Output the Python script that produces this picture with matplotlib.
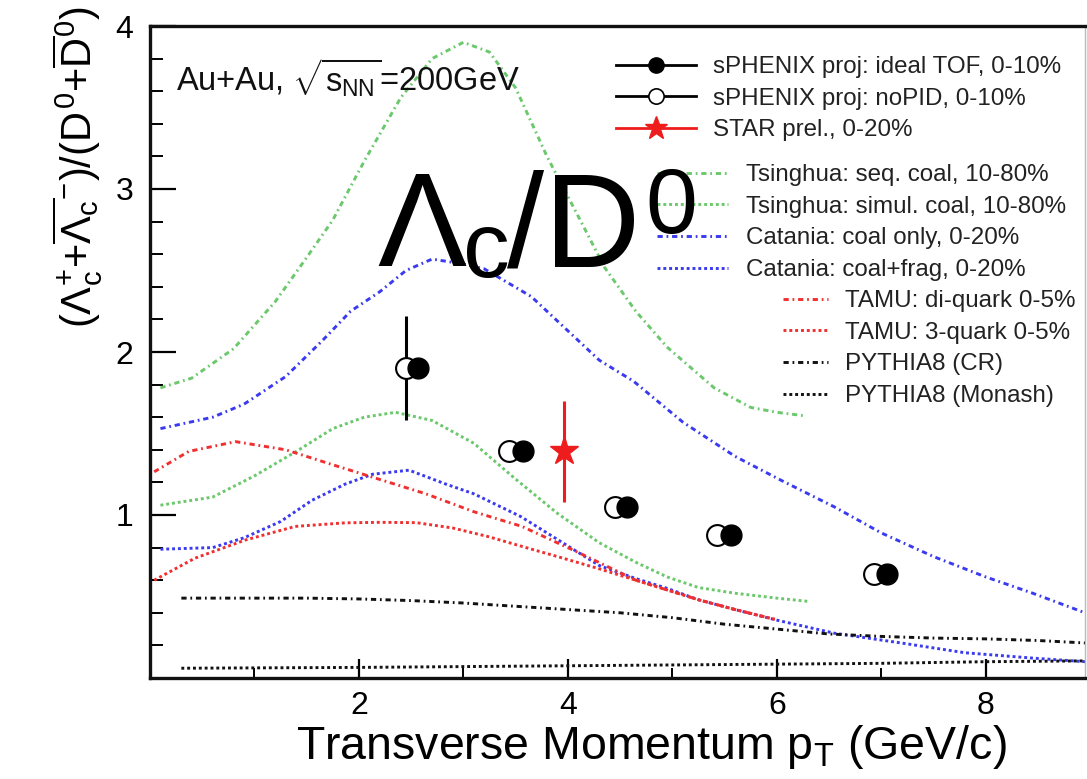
import matplotlib
matplotlib.use("Agg")
import matplotlib.pyplot as plt
from matplotlib.lines import Line2D

plt.rcParams['font.family'] = ['Liberation Sans', 'DejaVu Sans']
plt.rcParams['mathtext.fontset'] = 'custom'
plt.rcParams['mathtext.rm'] = 'Liberation Sans'
plt.rcParams['mathtext.it'] = 'Liberation Sans'
plt.rcParams['mathtext.bf'] = 'Liberation Sans:bold'
plt.rcParams['mathtext.sf'] = 'Liberation Sans'

# ---------------- data ----------------
# sPHENIX projections
tof_x = [2.57, 3.57, 4.57, 5.56, 7.05]
tof_y = [1.90, 1.39, 1.05, 0.88, 0.64]
nopid_x = [2.45, 3.44, 4.45, 5.43, 6.93]
nopid_y = [1.90, 1.39, 1.05, 0.88, 0.64]
nopid_err = [0.32, 0.0, 0.0, 0.0, 0.0]
# STAR preliminary
star_x = [3.96]
star_y = [1.39]
star_err = [0.31]

# model curves
tsq_x = [0.1, 0.4, 0.8, 1.2, 1.5, 1.75, 2.05, 2.4, 2.7, 3.0, 3.25, 3.5, 3.8,
         4.15, 4.35, 4.65, 4.95, 5.4, 5.75, 6.0, 6.25]
tsq_y = [1.78, 1.84, 2.02, 2.31, 2.58, 2.81, 3.17, 3.56, 3.80, 3.90, 3.84,
         3.62, 3.20, 2.77, 2.52, 2.25, 2.03, 1.78, 1.66, 1.63, 1.61]

tsim_x = [0.1, 0.6, 1.0, 1.4, 1.75, 2.05, 2.35, 2.7, 3.1, 3.5, 3.9, 4.3,
          4.65, 4.95, 5.25, 5.6, 6.0, 6.3]
tsim_y = [1.06, 1.11, 1.24, 1.39, 1.53, 1.60, 1.63, 1.58, 1.44, 1.22, 1.01,
          0.83, 0.71, 0.62, 0.555, 0.52, 0.49, 0.47]

ccoal_x = [0.1, 0.6, 0.9, 1.3, 1.65, 1.92, 2.2, 2.45, 2.7, 3.0, 3.2, 3.65,
           4.0, 4.3, 4.63, 5.1, 5.6, 6.05, 6.55, 7.0, 7.5, 8.0, 8.45, 8.95]
ccoal_y = [1.53, 1.60, 1.68, 1.85, 2.07, 2.25, 2.37, 2.50, 2.57, 2.54, 2.51,
           2.34, 2.13, 1.95, 1.82, 1.57, 1.36, 1.21, 1.05, 0.89, 0.745, 0.62,
           0.52, 0.40]

cfrag_x = [0.1, 0.6, 0.9, 1.25, 1.55, 1.87, 2.13, 2.48, 2.83, 3.1, 3.55,
           3.9, 4.3, 4.65, 4.95, 5.25, 5.6, 6.0, 6.55, 7.2, 7.8, 8.45, 8.95]
cfrag_y = [0.79, 0.80, 0.86, 0.96, 1.09, 1.19, 1.25, 1.275, 1.19, 1.13, 0.99,
           0.85, 0.69, 0.61, 0.55, 0.48, 0.42, 0.355, 0.275, 0.214, 0.155,
           0.122, 0.10]

tdi_x = [0.04, 0.37, 0.82, 1.3, 1.74, 2.19, 2.64, 3.1, 3.56, 4.1, 4.65, 4.95,
         5.25, 5.6, 5.98]
tdi_y = [1.265, 1.39, 1.45, 1.40, 1.31, 1.22, 1.13, 1.02, 0.93, 0.77, 0.60,
         0.54, 0.48, 0.42, 0.36]

t3q_x = [0.04, 0.43, 0.91, 1.39, 1.87, 2.2, 2.55, 2.9, 3.24, 3.6, 3.9, 4.3,
         4.65, 4.95, 5.25, 5.6, 5.98]
t3q_y = [0.60, 0.735, 0.846, 0.93, 0.952, 0.955, 0.953, 0.92, 0.867, 0.80,
         0.745, 0.67, 0.60, 0.54, 0.48, 0.42, 0.36]

pcr_x = [0.3, 1.0, 1.5, 2.0, 2.5, 3.0, 3.5, 4.0, 4.5, 5.0, 5.5, 6.0, 6.5,
         7.0, 7.5, 8.0, 8.5, 8.95]
pcr_y = [0.49, 0.49, 0.49, 0.485, 0.475, 0.46, 0.44, 0.42, 0.40, 0.37, 0.33,
         0.30, 0.27, 0.255, 0.245, 0.24, 0.23, 0.215]

pmon_x = [0.3, 2.0, 4.0, 6.0, 7.0, 8.0, 8.95]
pmon_y = [0.06, 0.065, 0.075, 0.085, 0.09, 0.10, 0.105]

xticks = [2, 4, 6, 8]
yticks = [1, 2, 3, 4]

labels_data = ['sPHENIX proj: ideal TOF, 0-10%', 'sPHENIX proj: noPID, 0-10%',
               'STAR prel., 0-20%']
labels_mod1 = ['Tsinghua: seq. coal, 10-80%', 'Tsinghua: simul. coal, 10-80%',
               'Catania: coal only, 0-20%', 'Catania: coal+frag, 0-20%']
labels_mod2 = ['TAMU: di-quark 0-5%', 'TAMU: 3-quark 0-5%',
               'PYTHIA8 (CR)', 'PYTHIA8 (Monash)']

# ---------------- styles ----------------
GREEN = '#6cc86c'
BLUE = '#3a3af0'
RED = '#f03030'
BLACK = '#111111'
DASHDOT = (0, (1.8, 1.3, 0.6, 1.3))
DASHED = (0, (1.0, 1.0))
LW = 2.1

fig = plt.figure(figsize=(10.87, 7.79), dpi=100)
W, H = 1087, 779
ax = fig.add_axes([150 / W, 1 - 678 / H, 935 / W, 652 / H])

curves = [
    (tsq_x, tsq_y, GREEN, DASHDOT),
    (tsim_x, tsim_y, GREEN, DASHED),
    (ccoal_x, ccoal_y, BLUE, DASHDOT),
    (cfrag_x, cfrag_y, BLUE, DASHED),
    (tdi_x, tdi_y, RED, DASHDOT),
    (t3q_x, t3q_y, RED, DASHED),
    (pcr_x, pcr_y, BLACK, DASHDOT),
    (pmon_x, pmon_y, BLACK, DASHED),
]
handles_mod = []
for cx, cy, col, ls in curves:
    ln, = ax.plot(cx, cy, color=col, ls=ls, lw=LW)
    handles_mod.append(ln)

# data points
ax.errorbar(nopid_x, nopid_y, yerr=nopid_err, fmt='o', ms=15, mfc='white',
            mec='black', mew=1.5, ecolor='black', elinewidth=2.2, capsize=0,
            zorder=5)
ax.errorbar(tof_x, tof_y, fmt='o', ms=15, mfc='black', mec='black',
            zorder=6)
ax.errorbar(star_x, star_y, yerr=star_err, fmt='*', ms=21, color='#ee1c1c',
            elinewidth=2.2, capsize=0, zorder=6)

ax.set_xlim(0, 8.95)
ax.set_ylim(0, 4)
ax.set_xticks(xticks)
ax.set_yticks(yticks)
ax.set_xticks([1, 3, 5, 7], minor=True)
ax.set_yticks([v / 5 for v in range(1, 20) if v % 5 != 0], minor=True)
ax.tick_params(axis='y', which='major', direction='in', length=19, width=1.6,
               labelsize=23, pad=12)
ax.tick_params(axis='y', which='minor', direction='in', length=9.5, width=1.4)
ax.tick_params(axis='x', which='major', direction='in', length=14, width=1.6,
               labelsize=23, pad=9)
ax.tick_params(axis='x', which='minor', direction='in', length=7, width=1.4)
for s in ['left', 'bottom', 'top']:
    ax.spines[s].set_linewidth(2.4)
    ax.spines[s].set_color('#111111')
ax.spines['right'].set_linewidth(1.0)
ax.spines['right'].set_color('#bbbbbb')

ax.set_xlabel(r'Transverse Momentum p$_{\mathrm{T}}$ (GeV/c)', fontsize=33.5)
ax.xaxis.set_label_coords(0.536, -0.069)
ax.set_ylabel(r'$(\Lambda_{c}^{+}{+}\overline{\Lambda_{c}}^{-})/(D^{0}{+}\overline{D}^{0})$',
              fontsize=30, loc='top')
ax.yaxis.set_label_coords(-0.048, 1.03)

fig.text(176 / W, 1 - 91 / H, r'Au+Au, $\sqrt{s_{NN}}$=200GeV', fontsize=23.5,
         ha='left', va='baseline', color='#111111')

# big annotation "Λc/D0" built from pieces
BIG = 96
fig.text(377 / W, 1 - 266 / H, 'Λ', fontsize=BIG, ha='left', va='baseline')
fig.text(463 / W, 1 - 277 / H, 'c', fontsize=BIG * 0.7, ha='left', va='baseline')
fig.text(507 / W, 1 - 266 / H, '/D', fontsize=BIG, ha='left', va='baseline')
fig.text(645 / W, 1 - 233 / H, '0', fontsize=BIG * 0.7, ha='left', va='baseline')

# legends
h_tof = Line2D([], [], color='black', lw=2, marker='o', ms=11, mfc='black')
h_nopid = Line2D([], [], color='black', lw=2, marker='o', ms=11, mfc='white',
                 mew=1.2)
h_star = Line2D([], [], color='#ee1c1c', lw=2, marker='*', ms=17)
LFS = 17.4
LSP = 0.4
leg1 = ax.legend([h_tof, h_nopid, h_star], labels_data, loc='upper left',
                 bbox_to_anchor=(616 / W, 1 - 56 / H), bbox_transform=fig.transFigure,
                 frameon=False, fontsize=LFS, handlelength=80 / 24.2,
                 handletextpad=17 / 24.2, borderpad=0, borderaxespad=0,
                 labelspacing=LSP, labelcolor='#222222')
ax.add_artist(leg1)
leg2 = ax.legend(handles_mod[:4], labels_mod1, loc='upper left',
                 bbox_to_anchor=(657 / W, 1 - 164 / H), bbox_transform=fig.transFigure,
                 frameon=False, fontsize=LFS, handlelength=71 / 24.2,
                 handletextpad=18 / 24.2, borderpad=0, borderaxespad=0,
                 labelspacing=LSP, labelcolor='#222222')
ax.add_artist(leg2)
leg3 = ax.legend(handles_mod[4:], labels_mod2, loc='upper left',
                 bbox_to_anchor=(783 / W, 1 - 290 / H), bbox_transform=fig.transFigure,
                 frameon=False, fontsize=LFS, handlelength=45 / 24.2,
                 handletextpad=17 / 24.2, borderpad=0, borderaxespad=0,
                 labelspacing=LSP, labelcolor='#222222')

fig.savefig('out.png', dpi=100)
